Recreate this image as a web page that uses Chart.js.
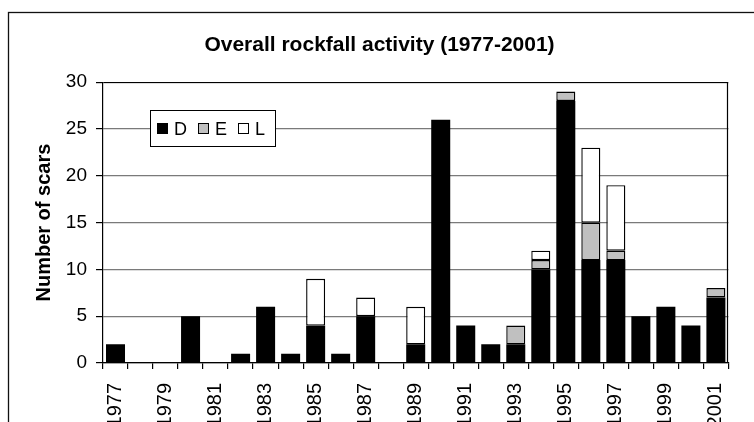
<!DOCTYPE html>
<html>
<head>
<meta charset="utf-8">
<script src="https://cdn.jsdelivr.net/npm/chart.js@4.4.1/dist/chart.umd.min.js"></script>
<style>
  html, body { margin: 0; padding: 0; background: #fff; }
  #wrap { position: relative; width: 754px; height: 422px; }
</style>
</head>
<body>
<div id="wrap"><canvas id="c" width="754" height="422"></canvas></div>
<script>
// Rockfall scars per year, split by type
const years = ['1977','1978','1979','1980','1981','1982','1983','1984','1985','1986','1987','1988','1989',
               '1990','1991','1992','1993','1994','1995','1996','1997','1998','1999','2000','2001'];
const scarsD = [2,0,0,5,0,1,6,1,4,1,5,0,2,26,4,2,2,10,28,11,11,5,6,4,7];
const scarsE = [0,0,0,0,0,0,0,0,0,0,0,0,0,0,0,0,2,1,1,4,1,0,0,0,1];
const scarsL = [0,0,0,0,0,0,0,0,5,0,2,0,4,0,0,0,0,1,0,8,7,0,0,0,0];
const shownYears = ['1977','1979','1981','1983','1985','1987','1989','1991','1993','1995','1997','1999','2001'];
const yTicks = [0,5,10,15,20,25,30];

const FONT = "'Liberation Sans', Arial, sans-serif";
Chart.defaults.font.family = FONT;
Chart.defaults.color = '#000';

// white page, outer frame and plot-area border
const framePlugin = {
  id: 'frame',
  beforeDraw(chart) {
    const ctx = chart.ctx;
    ctx.save();
    ctx.fillStyle = '#fff';
    ctx.fillRect(0, 0, chart.width, chart.height);
    ctx.strokeStyle = '#111';
    ctx.lineWidth = 1.3;
    ctx.strokeRect(8.5, 12.5, chart.width + 20, chart.height + 20);
    ctx.restore();
  },
  beforeDatasetsDraw(chart) {
    const {ctx, chartArea: a} = chart;
    ctx.save();
    ctx.strokeStyle = '#000';
    ctx.lineWidth = 1.2;
    ctx.beginPath();
    ctx.moveTo(Math.round(a.left) + 0.5, Math.round(a.top) + 0.5);
    ctx.lineTo(Math.round(a.right) - 0.5, Math.round(a.top) + 0.5);
    ctx.lineTo(Math.round(a.right) - 0.5, Math.round(a.bottom));
    ctx.stroke();
    ctx.restore();
  }
};

// boxed legend inside the plot, one row
const boxLegend = {
  id: 'boxLegend',
  afterDraw(chart) {
    const ctx = chart.ctx;
    const x0 = 150, y0 = 110, w = 126, h = 37;
    ctx.save();
    ctx.fillStyle = '#fff';
    ctx.fillRect(x0, y0, w, h);
    ctx.strokeStyle = '#000';
    ctx.lineWidth = 1;
    ctx.strokeRect(x0 + 0.5, y0 + 0.5, w - 1, h - 1);
    ctx.font = '18px ' + FONT;
    ctx.textBaseline = 'alphabetic';
    let x = x0 + 7;
    chart.data.datasets.forEach(ds => {
      ctx.fillStyle = ds.backgroundColor;
      ctx.fillRect(x, y0 + 13, 11, 11);
      ctx.strokeStyle = '#000';
      ctx.strokeRect(x + 0.5, y0 + 13.5, 10, 10);
      ctx.fillStyle = '#000';
      ctx.fillText(ds.label, x + 17, y0 + 25);
      x += 17 + ctx.measureText(ds.label).width + 11;
    });
    ctx.restore();
  }
};

const barStyle = { borderColor: '#000', borderWidth: 1.4, borderSkipped: false,
                   categoryPercentage: 1.0, barPercentage: 0.76 };

new Chart(document.getElementById('c'), {
  type: 'bar',
  data: {
    labels: years,
    datasets: [
      // solid black bars need no separate outline
      Object.assign({}, barStyle, { label: 'D', data: scarsD, backgroundColor: '#000000', borderWidth: 0 }),
      Object.assign({}, barStyle, { label: 'E', data: scarsE, backgroundColor: '#c0c0c0' }),
      Object.assign({}, barStyle, { label: 'L', data: scarsL, backgroundColor: '#ffffff' })
    ]
  },
  options: {
    responsive: false,
    animation: false,
    devicePixelRatio: 1,
    layout: { padding: { left: 10, right: 5, top: 0, bottom: 0 } },
    plugins: {
      legend: { display: false },
      tooltip: { enabled: false },
      title: {
        display: true,
        text: 'Overall rockfall activity (1977-2001)',
        color: '#000',
        font: { size: 21, weight: 'bold', family: FONT, lineHeight: 1.2 },
        padding: { top: 33, bottom: 24 }
      }
    },
    scales: {
      x: {
        stacked: true,
        offset: true,
        grid: { offset: true, drawOnChartArea: false, drawTicks: true, tickLength: 6, tickColor: '#000', lineWidth: 1.2 },
        border: { color: '#000', width: 1.2 },
        ticks: {
          autoSkip: false, maxRotation: 90, minRotation: 90, padding: 14,
          font: { size: 20 }, color: '#000',
          callback(v) { const s = this.getLabelForValue(v); return shownYears.includes(s) ? s : ''; }
        },
        afterFit(scale) { scale.height = 59; }
      },
      y: {
        stacked: true,
        min: 0, max: 30,
        afterBuildTicks(scale) { scale.ticks = yTicks.map(v => ({ value: v })); },
        grid: { color: '#7a7a7a', lineWidth: 1.2, tickLength: 7, tickColor: '#000' },
        border: { color: '#000', width: 1.2 },
        ticks: { padding: 9, font: { size: 19 }, color: '#000' },
        title: {
          display: true, text: 'Number of scars', color: '#000',
          font: { size: 20, weight: 'bold', lineHeight: 1.2 },
          padding: { top: 22, bottom: 0 }
        },
        afterFit(scale) { scale.width = 93; }
      }
    }
  },
  plugins: [framePlugin, boxLegend]
});
</script>
</body>
</html>
